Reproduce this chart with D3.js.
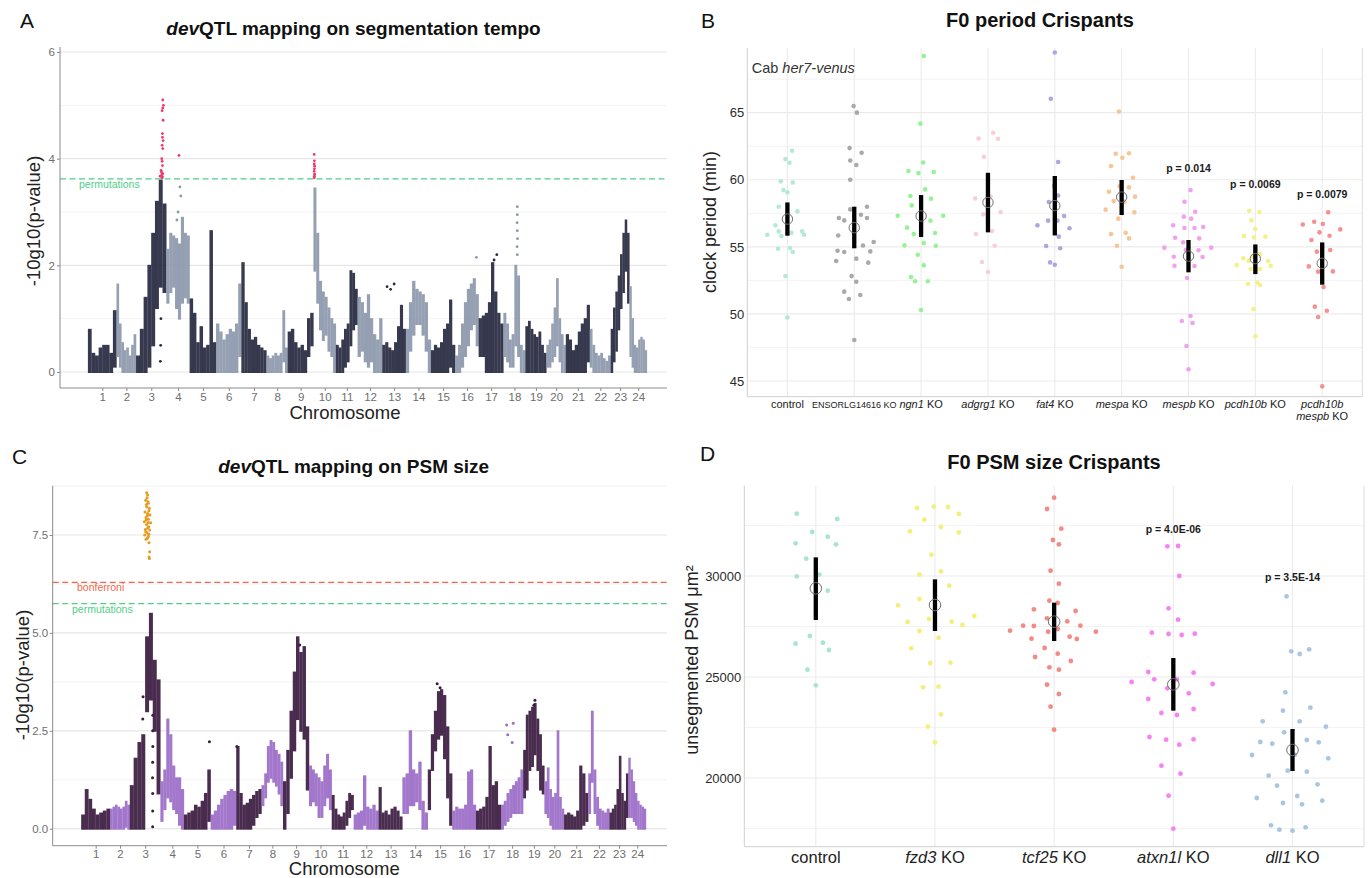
<!DOCTYPE html>
<html>
<head>
<meta charset="utf-8">
<title>devQTL mapping and F0 crispants</title>
<script src="https://cdn.jsdelivr.net/npm/d3@7"></script>
<style>
  body { margin: 0; background: #fff; }
  svg text { font-family: "Liberation Sans", Arial, Helvetica, sans-serif; }
</style>
</head>
<body>
<svg id="figure" width="1370" height="878"></svg>
<script>
// ---------- chromosomes (approx. Mb) ----------
const chromLengths = [37.4, 25.6, 39.6, 30.5, 34.6, 33.1, 32.8, 27.8, 33.7, 29.4, 28.4, 32.3,
                      30.8, 32.9, 31.6, 30.8, 32.4, 28.7, 27.5, 25.5, 31.3, 27.4, 24.5, 22.9];
const chromLabels = ["1","2","3","4","5","6","7","8","9","10","11","12",
                     "13","14","15","16","17","18","19","20","21","22","23","24"];

// ---------- A: segmentation tempo, -log10 p range per window along each chromosome ----------
const tempoWindows = [
  [[0,0.8],[0,0.35],[0,0.3],[0,0.45],[0,0.5],[0,0.5],[0,0.35],[0.1,1.15]],
  [[0.3,1.65],[0.1,0.9],[0,0.55],[0,0.4],[0,0.45],[0,0.3],[0,0.5],[0,0.7]],
  [[0,0.3],[0,0.8],[0,1.4],[0.1,2.0],[0.5,2.6],[1.2,3.2],[1.6,3.6],[1.5,3.15]],
  [[1.3,2.3],[1.5,2.6],[1.6,2.55],[1.2,2.5],[1.0,2.4],[1.3,2.9],[1.4,2.6],[1.3,2.55]],
  [[0,1.37],[0,1.1],[0,0.55],[0,0.85],[0,0.45],[0,0.5],[0,2.65],[0,0.55]],
  [[0,0.9],[0,0.75],[0,0.6],[0,0.7],[0,0.8],[0,0.75],[0,0.9],[0.3,1.65]],
  [[0,2.05],[0,1.3],[0,0.8],[0,0.6],[0,0.65],[0,0.5],[0,0.45],[0,0.4]],
  [[0,0.3],[0,0.25],[0,0.3],[0,0.35],[0,0.3],[0,0.35],[0.2,1.15],[0,0.45]],
  [[0,0.75],[0,0.8],[0,0.55],[0,0.45],[0,0.5],[0,0.4],[0.3,1.0],[0.5,1.1]],
  [[1.9,3.45],[1.3,2.6],[0.8,1.7],[0.6,1.5],[0.7,1.4],[0.4,1.2],[0.3,1.0],[0,0.9]],
  [[0,0.5],[0,0.45],[0,0.6],[0.1,0.8],[0.2,0.9],[0.5,1.9],[0.8,1.85],[0.9,1.55]],
  [[0.3,1.4],[0.4,1.3],[0.2,1.1],[0.1,1.45],[0.2,1.0],[0,0.7],[0,0.6],[0,1.0]],
  [[0,0.5],[0,0.55],[0,0.45],[0,0.4],[0,0.55],[0,0.85],[0,1.25],[0,0.8]],
  [[0,0.8],[0.4,1.3],[0.7,1.7],[0.9,1.55],[0.9,1.5],[0.7,1.45],[0.4,1.3],[0,0.6]],
  [[0,0.4],[0,0.5],[0,0.45],[0,0.55],[0,0.8],[0,0.9],[0.1,1.35],[0,0.5]],
  [[0,0.3],[0,0.5],[0.1,0.9],[0.3,1.3],[0.5,1.55],[0.8,1.65],[0.9,1.75],[0.5,1.45]],
  [[0.3,1.0],[0.3,1.05],[0,1.1],[0,1.3],[0,2.05],[0,1.5],[0,1.1],[0,0.9]],
  [[0.3,1.1],[0.2,0.9],[0.1,0.6],[0.1,0.7],[0.5,2.0],[0.3,1.8],[0,0.5],[0,0.4]],
  [[0,0.85],[0,0.95],[0,0.8],[0,0.7],[0,0.65],[0,0.75],[0,0.5],[0,0.35]],
  [[0.1,0.5],[0.1,0.6],[0.2,0.9],[0.3,1.2],[0.5,1.75],[0.2,1.0],[0,0.7],[0,0.5]],
  [[0,0.7],[0,0.6],[0,0.4],[0,0.5],[0,0.75],[0,0.9],[0,1.0],[0.2,1.25]],
  [[0.1,0.8],[0,0.5],[0,0.35],[0,0.3],[0,0.35],[0,0.25],[0,0.2],[0,0.3]],
  [[0,0.8],[0.2,1.2],[0.4,1.5],[0.8,1.8],[1.2,2.2],[1.5,2.6],[1.9,2.85],[1.3,2.6]],
  [[0.3,1.6],[0.1,1.0],[0,0.5],[0,0.45],[0,0.6],[0,0.65],[0,0.6],[0,0.4]]
];
// single SNPs: [chromosome, relative position, -log10 p]
const tempoSnps = [
  [3,0.880,5.10],[3,0.902,5.00],[3,0.880,4.95],[3,0.858,4.90],[3,0.891,4.72],[3,0.869,4.47],
  [3,0.869,4.40],[3,0.891,4.34],[3,0.858,4.25],[3,0.880,4.19],[3,0.847,4.00],[3,0.858,3.95],
  [3,0.869,3.87],[3,0.825,3.78],[3,0.836,3.75],[3,0.880,3.72],[3,0.847,3.70],[3,0.792,3.67],
  [3,0.869,3.66],[3,0.858,3.64],
  [4,0.54,4.06],
  [10,0.03,4.08],[10,0.04,3.96],[10,0.03,3.90],[10,0.05,3.86],[10,0.04,3.81],[10,0.03,3.76],
  [10,0.05,3.71],[10,0.04,3.67],[10,0.03,3.64],
  [4,0.58,3.47],[4,0.62,3.30],[4,0.50,3.00],[4,0.45,2.85],
  [18,0.63,3.10],[18,0.63,2.95],[18,0.62,2.80],[18,0.63,2.65],[18,0.64,2.50],[18,0.62,2.35],[18,0.63,2.20],
  [17,0.73,2.20],[17,0.62,2.10],[16,0.90,2.15],
  [13,0.20,1.60],[13,0.35,1.55],[13,0.50,1.65],
  [3,0.80,0.20],[3,0.81,0.50],[3,0.82,1.00]
];
const tempoPermutation = 3.62;

// ---------- C: PSM size ----------
const psmWindows = [
  [[0,0.35],[0,1.0],[0,0.75],[0,0.5],[0,0.35],[0,0.4],[0,0.45],[0,0.5]],
  [[0,0.5],[0,0.55],[0,0.6],[0,0.55],[0,0.5],[0,0.55],[0.05,0.7],[0,0.6]],
  [[0,1.1],[0,1.8],[0,2.2],[0,2.4],[3.0,4.9],[3.3,5.5],[2.5,4.3],[0.9,3.8]],
  [[0.2,1.2],[0.5,1.5],[0.8,2.8],[0.7,2.4],[0.5,1.6],[0.4,1.3],[0.1,1.3],[0,1.0]],
  [[0,0.35],[0,0.4],[0,0.45],[0,0.6],[0,0.55],[0,0.7],[0,0.9],[0.2,1.5]],
  [[0,0.35],[0,0.45],[0,0.6],[0,0.75],[0,0.85],[0,0.95],[0,1.0],[0.1,0.95]],
  [[0,2.1],[0,0.9],[0,0.6],[0,0.65],[0,0.75],[0.1,0.85],[0.3,0.95],[0.4,1.0]],
  [[0.6,1.1],[0.8,1.4],[1.2,2.1],[1.3,2.25],[1.2,2.2],[1.1,2.0],[0.9,1.9],[0.6,1.7]],
  [[0,1.2],[0.4,2.0],[1.3,3.0],[2.0,4.0],[2.8,4.9],[2.5,4.5],[2.3,4.65],[1.0,2.6]],
  [[0.6,1.6],[0.7,1.5],[0.6,1.4],[0.3,1.3],[0.3,1.2],[0.6,1.6],[0.8,1.9],[0.5,1.5]],
  [[0,0.85],[0,0.5],[0,0.35],[0,0.3],[0,0.4],[0.1,0.7],[0.3,0.9],[0.5,0.85]],
  [[0,0.35],[0,0.4],[0,0.45],[0.1,1.35],[0,0.55],[0,0.5],[0,0.6],[0,0.45]],
  [[0,1.05],[0,0.4],[0,0.45],[0,0.35],[0,0.5],[0,0.55],[0,0.45],[0,0.3]],
  [[0.4,1.3],[0.4,1.4],[0.6,2.5],[0.6,1.5],[0.7,1.4],[0.5,1.7],[0,0.7],[0,0.4]],
  [[0.5,1.5],[1.5,2.4],[2.0,3.0],[2.3,3.5],[2.4,3.55],[1.8,3.4],[0.8,2.6],[0.1,1.4]],
  [[0,0.45],[0,0.55],[0,0.5],[0,0.5],[0,0.6],[0,1.45],[0,1.5],[0,0.6]],
  [[0,0.45],[0,0.5],[0,0.55],[0,0.8],[0,2.1],[0,1.1],[0,1.2],[0,0.6]],
  [[0,0.6],[0.1,0.7],[0.2,0.9],[0.3,1.0],[0.4,1.1],[0.4,1.2],[0.4,1.3],[0.4,1.5]],
  [[0.8,2.0],[1.0,2.9],[1.5,3.0],[1.6,3.1],[1.9,3.2],[1.5,2.8],[1.0,2.4],[0.9,1.6]],
  [[0.4,1.2],[0.3,1.55],[0.1,1.0],[0,0.8],[0,0.9],[0,2.5],[0,0.8],[0,0.5]],
  [[0,0.35],[0,0.4],[0,0.35],[0,0.3],[0,0.45],[0,1.6],[0.1,1.4],[0.2,0.9]],
  [[0.4,1.4],[1.2,3.0],[0.4,1.5],[0.1,0.8],[0,0.5],[0,0.45],[0,0.4],[0,0.5]],
  [[0,0.4],[0,0.5],[0,0.6],[0,1.0],[0,1.85],[0,0.9],[0,0.7],[0.3,1.4]],
  [[0.3,1.8],[0.3,1.5],[0.2,1.2],[0.1,0.9],[0,0.7],[0,0.6],[0,0.55],[0,0.5]]
];
const psmSnps = [
  [3,0.548,8.58],[3,0.581,8.52],[3,0.56,8.45],[3,0.516,8.39],[3,0.59,8.35],[3,0.603,8.31],
  [3,0.54,8.28],[3,0.548,8.22],[3,0.636,8.18],[3,0.62,8.12],[3,0.494,8.09],[3,0.581,8.05],
  [3,0.657,8.01],[3,0.57,8.00],[3,0.527,7.95],[3,0.603,7.90],[3,0.53,7.88],[3,0.472,7.84],
  [3,0.60,7.82],[3,0.679,7.81],[3,0.548,7.77],[3,0.614,7.71],[3,0.58,7.68],[3,0.505,7.64],
  [3,0.646,7.63],[3,0.52,7.58],[3,0.559,7.56],[3,0.62,7.52],[3,0.483,7.50],[3,0.603,7.46],
  [3,0.57,7.42],[3,0.527,7.39],[3,0.625,7.30],[3,0.646,7.07],[3,0.625,6.94],[3,0.64,6.90],
  [3,0.745,0.05],[3,0.745,0.45],[3,0.745,0.90],[3,0.74,1.30],[3,0.745,1.70],[3,0.75,2.10],
  [3,0.745,2.50],[3,0.75,2.90],[3,0.42,2.80],[3,0.43,3.37],
  [5,0.95,2.22],[18,0.25,2.65],[18,0.30,2.40],[18,0.55,2.69],[18,0.50,2.20],
  [15,0.38,3.70],[15,0.50,3.60],[9,0.64,4.69],[19,0.55,3.28],[19,0.50,3.15],[7,0.02,2.10]
];
const psmPermutation = 5.75;
const psmBonferroni = 6.29;

// ---------- B: F0 period crispants ----------
const periodGroups = ["control", "ENSORLG14616 KO", "*ngn1* KO", "*adgrg1* KO", "*fat4* KO",
                      "*mespa* KO", "*mespb* KO", "*pcdh10b* KO", "*pcdh10b*\n*mespb* KO"];
const periodValues = [
  [62.16,61.54,61.27,59.88,59.80,59.23,59.06,57.99,57.64,56.60,56.15,56.05,55.80,56.15,55.90,55.90,54.86,54.91,54.61,52.82,49.74],
  [65.49,65.0,62.36,62.01,61.44,61.1,60.0,57.99,57.79,57.15,56.97,57.39,57.15,55.85,55.1,55.36,54.71,54.61,54.66,53.94,54.12,53.82,52.82,52.4,51.66,51.41,51.11,48.06],
  [69.22,64.18,61.29,60.65,60.5,60.57,59.28,58.79,58.59,58.09,57.32,57.32,56.43,56.95,55.95,56.03,55.11,55.28,55.08,54.41,53.62,52.75,52.43,52.43,50.29],
  [63.08,63.5,63.06,61.72,58.61,58.74,57.42,57.59,56.18,55.08,55.95,53.87,53.12],
  [69.49,66.04,61.32,59.56,58.34,58.83,58.36,57.3,56.95,56.95,56.6,56.38,55.76,55.06,54.89,53.84,53.67],
  [65.09,61.94,61.97,61.64,61.02,60.15,59.51,59.43,59.11,58.41,58.36,58.74,57.77,57.57,57.1,55.95,56.05,55.63,55.08,53.52],
  [59.23,58.36,57.62,57.25,57.1,56.6,56.4,56.4,56.48,55.68,55.63,55.33,54.94,54.94,54.76,54.74,54.26,54.24,53.59,53.57,52.68,49.84,49.47,49.32,47.61,45.87],
  [57.69,57.59,56.97,56.33,55.8,55.7,55.76,54.14,53.94,54.24,54.46,53.94,53.64,53.59,53.35,53.35,52.23,52.33,52.15,50.36,48.33],
  [57.57,56.67,56.87,56.7,56.3,56.08,55.83,55.51,54.76,54.64,53.54,53.15,53.17,52.0,50.54,50.24,49.77,44.6]
];
// horizontal jitter, in category units
const periodJitter = [
  [0.07,-0.03,0.03,-0.10,0.08,-0.06,0.00,-0.13,0.15,-0.18,-0.13,0.06,-0.09,0.22,0.25,-0.30,-0.14,0.04,0.08,-0.03,0.00],
  [-0.01,0.04,-0.07,0.11,-0.06,0.03,-0.06,0.19,-0.06,-0.23,-0.15,0.10,0.19,-0.24,0.13,0.29,-0.25,-0.15,0.24,-0.27,0.03,0.21,-0.04,0.03,-0.15,0.09,-0.08,0.00],
  [0.04,-0.01,0.03,-0.19,-0.04,0.19,0.06,-0.16,0.15,-0.14,-0.35,0.33,-0.21,0.14,-0.11,0.21,-0.25,0.04,0.22,-0.05,0.04,-0.15,-0.09,0.10,0.00],
  [-0.14,0.08,0.15,-0.06,-0.19,0.04,-0.07,0.19,0.06,0.10,-0.18,-0.09,0.00],
  [0.00,-0.06,0.05,-0.01,-0.09,0.05,0.01,0.14,-0.10,0.04,-0.26,0.22,0.06,-0.13,0.08,-0.07,0.00],
  [-0.04,-0.09,0.11,0.01,-0.16,0.17,-0.03,0.11,-0.19,-0.12,0.04,0.20,-0.24,0.19,-0.05,-0.16,0.06,0.11,-0.07,0.00],
  [0.03,-0.06,0.10,-0.07,0.04,-0.23,-0.06,0.09,0.22,-0.20,0.16,-0.08,-0.36,0.34,-0.04,0.15,-0.22,0.21,-0.21,0.09,-0.02,0.03,-0.10,0.06,-0.03,0.00],
  [-0.09,0.06,-0.06,0.00,-0.17,-0.02,0.15,-0.18,-0.10,-0.03,0.07,0.19,-0.28,0.23,-0.07,0.07,-0.11,0.03,0.07,-0.03,0.00],
  [0.09,-0.29,-0.12,0.01,0.27,-0.04,0.11,-0.16,0.12,-0.08,-0.20,-0.06,0.16,0.02,-0.11,0.07,-0.06,0.00]
];
const periodMean  = [57.07, 56.43, 57.30, 58.31, 58.07, 58.71, 54.31, 54.12, 53.77];
const periodLower = [55.83, 54.89, 55.73, 56.08, 55.85, 57.37, 53.10, 52.97, 52.18];
const periodUpper = [58.31, 57.99, 58.86, 60.52, 60.28, 59.98, 55.51, 55.18, 55.33];
const periodTests = [[6, "p = 0.014", 60.55], [7, "p = 0.0069", 59.35], [8, "p = 0.0079", 58.65]];
const periodYTicks = [45, 50, 55, 60, 65];

// ---------- D: F0 PSM size crispants ----------
const sizeGroups = ["control", "*fzd3* KO", "*tcf25* KO", "*atxn1l* KO", "*dll1* KO"];
const sizeValues = [
  [33085,32821,32177,31946,31616,31567,30857,29983,30065,29273,27029,26650,26699,26336,25363,24587],
  [33365,33431,33415,33068,32788,32425,32210,32161,31056,30065,30230,29521,28861,28547,27871,27722,27739,28019,27574,27277,26947,26419,25693,25709,24488,24521,23152,22541,21766],
  [33877,33316,32342,31781,31567,30263,29620,28778,28663,28349,28267,27904,27755,27376,27541,27524,27541,27293,27244,27244,26897,26996,26881,26435,26155,25990,25792,25478,25363,24620,24158,23531,22393],
  [31468,31484,29999,28399,27838,27194,27128,27079,27145,25247,25214,24884,24752,24884,24653,24439,23911,24191,23416,23218,23119,22030,21898,21650,21914,20611,20215,19126,17492],
  [28993,26270,26138,26369,24241,23333,23482,22805,22805,22541,22261,21782,21700,21881,21766,21155,21139,20974,20363,20314,20116,19621,19687,19010,19109,18878,18763,18697,17657,17443,17393,17558]
];
const sizeJitter = [
  [-0.16,0.18,-0.03,0.10,-0.17,0.17,-0.08,-0.16,0.03,0.10,-0.05,-0.17,0.06,0.11,-0.07,0.00],
  [-0.15,-0.01,0.11,0.20,-0.09,0.05,-0.21,0.20,-0.03,-0.13,0.05,0.12,-0.13,-0.31,-0.05,-0.23,0.14,0.33,0.23,-0.13,0.03,-0.20,-0.04,0.13,-0.10,0.03,0.05,-0.06,0.00],
  [0.00,-0.06,0.06,-0.01,0.04,-0.03,0.04,-0.04,0.03,-0.17,0.18,-0.06,0.11,0.03,0.22,-0.17,-0.26,-0.37,-0.05,0.35,-0.19,0.13,0.19,-0.08,0.03,-0.16,0.14,-0.04,0.04,-0.06,0.04,-0.03,0.00],
  [-0.05,0.04,0.05,-0.04,0.04,-0.18,-0.04,0.07,0.18,-0.21,0.17,-0.16,-0.35,0.03,0.33,-0.05,-0.21,0.13,0.17,-0.10,0.03,-0.20,-0.06,0.05,0.17,-0.10,0.06,-0.04,0.00],
  [-0.05,-0.01,0.06,0.14,-0.06,-0.08,0.15,-0.25,0.06,0.28,-0.07,-0.27,-0.17,0.12,0.22,0.02,-0.34,0.30,-0.04,0.12,-0.20,-0.13,0.21,-0.30,0.04,0.25,-0.08,0.08,-0.18,-0.11,0.00,0.11]
];
const sizeMean  = [29389, 28564, 27739, 24637, 21386];
const sizeLower = [27821, 27277, 26782, 23333, 20347];
const sizeUpper = [30923, 29834, 28679, 25940, 22426];
const sizeTests = [[3, "p = 4.0E-06", 32110], [4, "p = 3.5E-14", 29770]];
const sizeYTicks = [20000, 25000, 30000];

// ---------------------------------------------------------------
const svg = d3.select("#figure");
const NARROW = '"Liberation Sans Narrow", "Liberation Sans", Arial, sans-serif';

function label(sel, str, size, opts) {
  // "*word*" = italic; "\n" = new line
  const o = Object.assign({anchor: "middle", weight: "normal", fill: "#222", lineHeight: 1.15}, opts);
  const t = sel.append("text").attr("x", o.x).attr("y", o.y)
    .attr("text-anchor", o.anchor).attr("fill", o.fill)
    .style("font-size", size + "px").style("font-weight", o.weight);
  if (o.rotate) t.attr("transform", `rotate(${o.rotate},${o.x},${o.y})`);
  str.split("\n").forEach((line, li) => {
    line.split("*").forEach((part, pi) => {
      if (!part) return;
      const ts = t.append("tspan").text(part).style("font-style", pi % 2 ? "italic" : "normal");
      if (li > 0 && (pi === 0 || (pi === 1 && line.startsWith("*")))) {
        ts.attr("x", o.x).attr("dy", (o.lineHeight * size) + "px");
      }
    });
  });
  return t;
}

function drawManhattan(o) {
  const g = svg.append("g");
  const ends = d3.cumsum(chromLengths);
  const starts = chromLengths.map((len, i) => ends[i] - len);
  const x = d3.scaleLinear().domain([0, d3.sum(chromLengths)]).range(o.xRange);
  const y = d3.scaleLinear().domain(o.yDomain).range(o.yRange);
  const colour = i => i % 2 ? o.light : o.dark;

  g.selectAll("line.minor").data(o.minorTicks).join("line").attr("class", "minor")
    .attr("x1", o.left).attr("x2", o.right).attr("y1", d => y(d)).attr("y2", d => y(d))
    .attr("stroke", "#f2f2f2").attr("stroke-width", 1);
  g.selectAll("line.major").data(o.majorTicks).join("line").attr("class", "major")
    .attr("x1", o.left).attr("x2", o.right).attr("y1", d => y(d)).attr("y2", d => y(d))
    .attr("stroke", "#e6e6e6").attr("stroke-width", 1.2);

  // windows of SNPs, drawn as dense strips
  const wins = o.windows.flatMap((list, c) => list.map((w, k) => ({
    c, n: list.length, lo: w[0], hi: w[1],
    pos: starts[c] + (k + 0.5) / list.length * chromLengths[c]
  })));
  g.append("g").selectAll("line").data(wins).join("line")
    .attr("x1", d => x(d.pos)).attr("x2", d => x(d.pos))
    .attr("y1", d => y(d.lo) + 1).attr("y2", d => y(d.hi) - 0.5)
    .attr("stroke", d => colour(d.c))
    .attr("stroke-width", d => (x(chromLengths[d.c]) - x(0)) / d.n + 0.2)
    .attr("opacity", 0.92);

  // threshold lines
  o.thresholds.forEach(t => {
    g.append("line").attr("x1", o.left).attr("x2", o.right)
      .attr("y1", y(t.value)).attr("y2", y(t.value))
      .attr("stroke", t.colour).attr("stroke-width", 1.2).attr("stroke-dasharray", "6,3.5");
    g.append("text").attr("x", t.labelX).attr("y", y(t.value) + 9)
      .attr("fill", t.colour).style("font-size", "10.5px").style("font-family", NARROW)
      .text(t.name);
  });

  g.append("g").selectAll("circle").data(o.snps).join("circle")
    .attr("cx", d => x(starts[d[0] - 1] + d[1] * chromLengths[d[0] - 1]))
    .attr("cy", d => y(d[2])).attr("r", o.r)
    .attr("fill", d => d[2] > o.hitAbove ? o.hit : colour(d[0] - 1));

  // axes
  const ya = g.append("g").attr("transform", `translate(${o.left},0)`)
    .call(d3.axisLeft(y).tickValues(o.majorTicks).tickFormat(o.format).tickSize(3).tickPadding(o.pad));
  const centers = chromLengths.map((len, i) => starts[i] + len / 2);
  const xa = g.append("g").attr("transform", `translate(0,${o.bottom})`)
    .call(d3.axisBottom(x).tickValues(centers).tickFormat((d, i) => chromLabels[i]).tickSize(3).tickPadding(o.xPad));
  [ya, xa].forEach(a => {
    a.select(".domain").remove();
    a.selectAll("line").attr("stroke", "#8a8a8a");
    a.selectAll("text").attr("fill", "#6e6e6e").style("font-size", "11.5px").style("font-family", NARROW);
  });
  g.append("line").attr("x1", o.left).attr("x2", o.left).attr("y1", o.top).attr("y2", o.bottom)
    .attr("stroke", "#8a8a8a");
  g.append("line").attr("x1", o.left).attr("x2", o.right).attr("y1", o.bottom).attr("y2", o.bottom)
    .attr("stroke", "#8a8a8a");

  label(g, o.title, 19, {x: o.titleX, y: o.titleY, weight: "bold", fill: "#111"});
  label(g, "Chromosome", 18.5, {x: o.xLabelX, y: o.xLabelY});
  label(g, "-10g10(p-value)", 18.5, {x: o.yLabelX, y: o.yLabelY, rotate: -90});
  label(g, o.letter, 21, {x: o.letterX, y: o.letterY, anchor: "start", fill: "#111"});
}

function drawStrip(o) {
  const g = svg.append("g");
  const x = d3.scalePoint().domain(o.groups).range([o.left, o.right]).padding(0.6);
  const step = x.step();
  const y = d3.scaleLinear().domain(o.yDomain).range([o.bottom, o.top]);

  g.selectAll("line.minor").data(o.minorTicks).join("line").attr("class", "minor")
    .attr("x1", o.left).attr("x2", o.right).attr("y1", d => y(d)).attr("y2", d => y(d))
    .attr("stroke", "#f3f3f3");
  g.selectAll("line.major").data(o.yTicks).join("line").attr("class", "major")
    .attr("x1", o.left).attr("x2", o.right).attr("y1", d => y(d)).attr("y2", d => y(d))
    .attr("stroke", "#ebebeb").attr("stroke-width", 1.1);
  g.selectAll("line.vgrid").data(o.groups).join("line").attr("class", "vgrid")
    .attr("x1", d => x(d)).attr("x2", d => x(d)).attr("y1", o.top).attr("y2", o.bottom)
    .attr("stroke", "#ebebeb").attr("stroke-width", 1.1);
  g.append("line").attr("x1", o.left).attr("x2", o.left).attr("y1", o.top).attr("y2", o.bottom)
    .attr("stroke", "#cfcfcf");
  g.append("line").attr("x1", o.left).attr("x2", o.right).attr("y1", o.bottom).attr("y2", o.bottom)
    .attr("stroke", "#cfcfcf");
  g.append("line").attr("x1", o.right).attr("x2", o.right).attr("y1", o.top).attr("y2", o.bottom)
    .attr("stroke", "#dddddd");

  const pts = o.values.flatMap((vals, gi) => vals.map((v, k) => ({gi, v, j: o.jitter[gi][k]})));
  g.append("g").selectAll("circle").data(pts).join("circle")
    .attr("cx", d => x(o.groups[d.gi]) + d.j * step)
    .attr("cy", d => y(d.v)).attr("r", o.r)
    .attr("fill", d => o.colours[d.gi]);

  g.append("g").selectAll("line").data(o.groups).join("line")
    .attr("x1", d => x(d)).attr("x2", d => x(d))
    .attr("y1", (d, i) => y(o.lower[i])).attr("y2", (d, i) => y(o.upper[i]))
    .attr("stroke", "#000").attr("stroke-width", 4.3);
  g.append("g").selectAll("circle").data(o.groups).join("circle")
    .attr("cx", d => x(d)).attr("cy", (d, i) => y(o.mean[i])).attr("r", o.meanR)
    .attr("fill", "none").attr("stroke", "#6f6f6f").attr("stroke-width", 1);

  g.append("g").selectAll("text").data(o.yTicks).join("text")
    .attr("x", o.left - 3).attr("y", d => y(d)).attr("dy", "0.36em")
    .attr("text-anchor", "end").attr("fill", "#2b2b2b").style("font-size", "13px")
    .text(d => d);

  o.groups.forEach(name => {
    label(g, name, o.labelSize(name), {x: x(name), y: o.labelY, fill: "#222"});
  });
  o.tests.forEach(t => {
    label(g, t[1], 10.5, {x: x(o.groups[t[0]]), y: y(t[2]), weight: "bold", fill: "#1a1a1a"});
  });

  label(g, o.title, 20, {x: o.titleX, y: o.titleY, weight: "bold", fill: "#111"});
  label(g, o.yLabel, o.yLabelSize, {x: o.yLabelX, y: o.yLabelY, rotate: -90});
  label(g, o.letter, 21, {x: o.letterX, y: o.letterY, anchor: "start", fill: "#111"});
  return {g, x, y};
}

// ---------- panel A ----------
drawManhattan({
  windows: tempoWindows, snps: tempoSnps, hitAbove: tempoPermutation,
  xRange: [88, 647], yDomain: [0, 6], yRange: [372, 52],
  left: 60, right: 667, top: 47, bottom: 388,
  majorTicks: [0, 2, 4, 6], minorTicks: [1, 3, 5], format: d3.format("d"), pad: 2, xPad: 2,
  dark: "#272a40", light: "#8d98ad", hit: "#ee3a6a", r: 1.4,
  thresholds: [{value: tempoPermutation, colour: "#4fcf87", name: "permutations", labelX: 79}],
  title: "*dev*QTL mapping on segmentation tempo", titleX: 353.5, titleY: 35,
  xLabelX: 345, xLabelY: 418.5, yLabelX: 39.5, yLabelY: 221,
  letter: "A", letterX: 20, letterY: 28
});

// ---------- panel C ----------
drawManhattan({
  windows: psmWindows, snps: psmSnps, hitAbove: psmPermutation,
  xRange: [81.25, 646.1], yDomain: [0, 7.5], yRange: [828.7, 535],
  left: 52.7, right: 667, top: 485.7, bottom: 845.7,
  majorTicks: [0, 2.5, 5, 7.5], minorTicks: [1.25, 3.75, 6.25, 8.75], format: d3.format(".1f"), pad: 1.5, xPad: 1.5,
  dark: "#3b1b40", light: "#9b6cc8", hit: "#e89a1c", r: 1.5,
  thresholds: [
    {value: psmBonferroni, colour: "#f4664e", name: "bonferroni", labelX: 77},
    {value: psmPermutation, colour: "#4fcf87", name: "permutations", labelX: 72}
  ],
  title: "*dev*QTL mapping on PSM size", titleX: 353.7, titleY: 473,
  xLabelX: 344.3, xLabelY: 875, yLabelX: 28.5, yLabelY: 675,
  letter: "C", letterX: 12, letterY: 463.5
});

// ---------- panel B ----------
const b = drawStrip({
  groups: periodGroups, values: periodValues, jitter: periodJitter,
  mean: periodMean, lower: periodLower, upper: periodUpper, tests: periodTests,
  left: 747.3, right: 1362.3, top: 48, bottom: 396.7, yDomain: [43.83, 69.82],
  yTicks: periodYTicks, minorTicks: [47.5, 52.5, 57.5, 62.5, 67.5],
  colours: ["#b4e9d6", "#a9a9a9", "#96f296", "#f8cfd7", "#aca8dd", "#f8c594", "#f0a2ee", "#f4f08c", "#f59193"],
  r: 2.3, meanR: 5.2,
  labelY: 407.5, labelSize: name => name.startsWith("ENSORLG") ? 9 : 11,
  title: "F0 period Crispants", titleX: 1040, titleY: 26.7,
  yLabel: "clock period (min)", yLabelSize: 18, yLabelX: 716, yLabelY: 222,
  letter: "B", letterX: 701, letterY: 27.5
});
label(b.g, "Cab *her7-venus*", 14.5, {x: 751.7, y: 73, anchor: "start", fill: "#333"});

// ---------- panel D ----------
drawStrip({
  groups: sizeGroups, values: sizeValues, jitter: sizeJitter,
  mean: sizeMean, lower: sizeLower, upper: sizeUpper, tests: sizeTests,
  left: 744.3, right: 1364, top: 485.7, bottom: 846.7, yDomain: [16599, 34470],
  yTicks: sizeYTicks, minorTicks: [17500, 22500, 27500, 32500],
  colours: ["#a8e4cf", "#f4ef7d", "#f48a84", "#f782f4", "#aac5e1"],
  r: 2.4, meanR: 5.8,
  labelY: 863, labelSize: () => 16.5,
  title: "F0 PSM size Crispants", titleX: 1054, titleY: 469.3,
  yLabel: "unsegmented PSM μm²", yLabelSize: 18, yLabelX: 698, yLabelY: 660,
  letter: "D", letterX: 700, letterY: 460.5
});
</script>
</body>
</html>
